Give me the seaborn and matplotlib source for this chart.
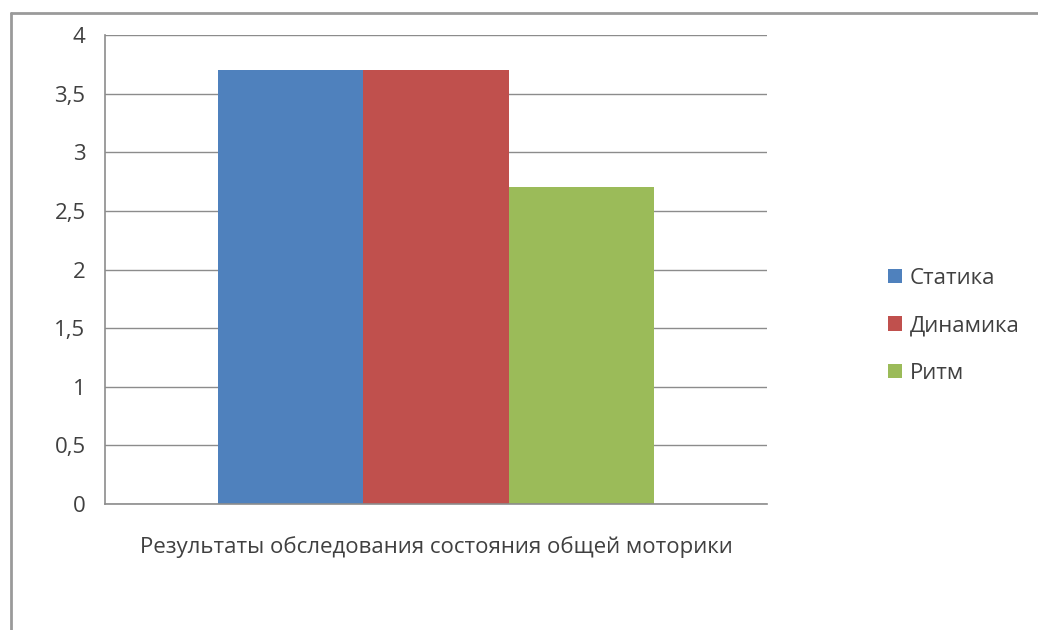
import pandas as pd
import matplotlib
matplotlib.use("Agg")
import matplotlib.pyplot as plt
import seaborn as sns
from matplotlib.lines import Line2D

# chart data
category = ["Результаты обследования состояния общей моторики"]
series = ["Статика", "Динамика", "Ритм"]
values = [3.7, 3.7, 2.7]
y_ticks = [0, 0.5, 1, 1.5, 2, 2.5, 3, 3.5, 4]
y_tick_labels = ["0", "0,5", "1", "1,5", "2", "2,5", "3", "3,5", "4"]
colors = ["#4F81BD", "#C0504D", "#9BBB59"]

df = pd.DataFrame({
    "cat": category * len(series),
    "series": series,
    "value": values,
})

sns.set_style("white")
plt.rcParams["font.family"] = ["Open Sans", "DejaVu Sans"]
text_color = "#404040"
fs = 16

fig = plt.figure(figsize=(10.38, 6.30), dpi=100)
ax = fig.add_axes([105 / 1038, 1 - 504 / 630, (767 - 105) / 1038, (504 - 35) / 630])

sns.barplot(data=df, x="cat", y="value", hue="series", hue_order=series,
            palette=colors, width=0.66, saturation=1, linewidth=0,
            ax=ax, legend=True)

ax.set_xlim(-0.5, 0.5)
ax.set_ylim(0, 4)
ax.set_yticks(y_ticks)
ax.set_yticklabels(y_tick_labels)
ax.yaxis.grid(True, color="#8c8c8c", linewidth=1)
ax.set_axisbelow(True)

# spines: only left and bottom, like Excel
for side in ["top", "right"]:
    ax.spines[side].set_visible(False)
for side in ["left", "bottom"]:
    ax.spines[side].set_color("#8c8c8c")
    ax.spines[side].set_linewidth(1.2)

ax.set_xlabel("")
ax.set_ylabel("")
ax.tick_params(axis="y", length=5, color="#8c8c8c", labelsize=fs,
               labelcolor=text_color, pad=9)
ax.tick_params(axis="x", which="major", length=0, labelsize=fs,
               labelcolor=text_color, pad=23)
ax.set_xticks([-0.5, 0.5], minor=True)
ax.tick_params(axis="x", which="minor", length=6, color="#8c8c8c", width=1.2)

leg = ax.legend(loc="center left", bbox_to_anchor=(1.17, 0.38), frameon=False,
                fontsize=fs, handlelength=0.6, handleheight=0.6,
                handletextpad=0.35, labelspacing=1.2, borderaxespad=0)
for t in leg.get_texts():
    t.set_color(text_color)

# outer chart frame (only left and top edges visible in the crop)
fig.add_artist(Line2D([11 / 1038, 11 / 1038], [0, 1 - 13 / 630],
                      transform=fig.transFigure, color="#9a9a9a", linewidth=2))
fig.add_artist(Line2D([11 / 1038, 1], [1 - 13 / 630, 1 - 13 / 630],
                      transform=fig.transFigure, color="#9a9a9a", linewidth=2))

fig.savefig("out.png", dpi=100, facecolor="white")
